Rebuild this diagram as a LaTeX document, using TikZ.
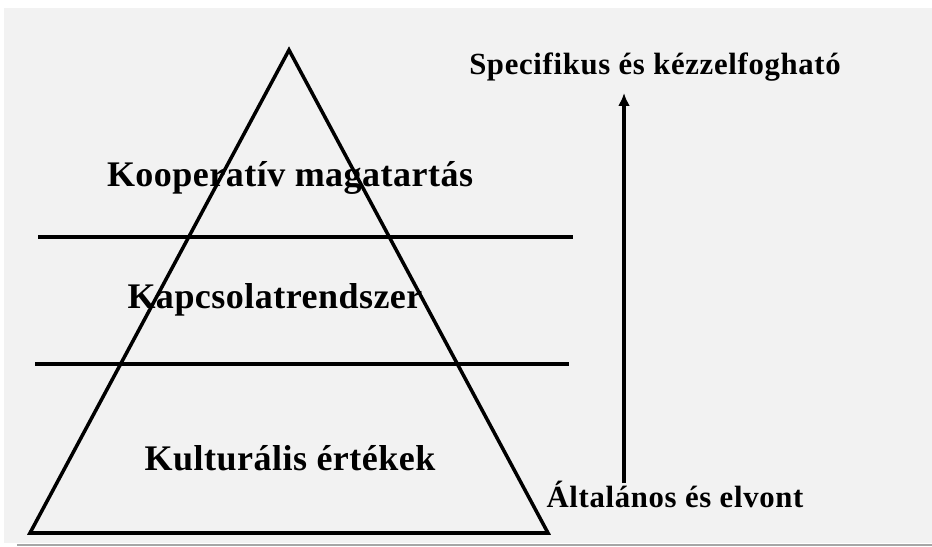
\documentclass[tikz,border=0pt]{standalone}
\usepackage{fontspec}
\setmainfont{Liberation Serif}
\usepackage{xcolor}
\usetikzlibrary{arrows.meta}
\definecolor{slidebg}{HTML}{F2F2F2}

\begin{document}
\begin{tikzpicture}[x=0.02cm, y=-0.02cm,
    line/.style={draw=black, line width=2pt},
    layer/.style={anchor=base, inner sep=0pt, font=\bfseries\fontsize{20.5}{24}\selectfont\addfontfeatures{LetterSpace=1.3}},
    side/.style={anchor=base, inner sep=0pt, font=\bfseries\fontsize{17.5}{20}\selectfont\addfontfeatures{LetterSpace=2.2}}]
  \useasboundingbox (0,0) rectangle (932,547);

  % background of the slide
  \fill[slidebg] (4,8) rectangle (932,543);
  \draw[gray!70, line width=1.7pt] (17,545) -- (932,545);

  % pyramid
  \coordinate (apex) at (289,50);
  \coordinate (bl) at (30,533);
  \coordinate (br) at (548,533);
  \draw[line, line join=miter] (apex) -- (bl) -- (br) -- cycle;

  \coordinate (s1a) at (38,237);
  \coordinate (s1b) at (573,237);
  \coordinate (s2a) at (35,364);
  \coordinate (s2b) at (569,364);
  \draw[line] (s1a) -- (s1b);
  \draw[line] (s2a) -- (s2b);

  \node[layer] (coop) at (290,187) {Kooperatív magatartás};
  \node[layer] (kapcs) at (275,308) {Kapcsolatrendszer};
  \node[layer] (kult) at (290,470) {Kulturális értékek};

  % direction of the levels
  \node[side] (spec) at (655,75) {Specifikus és kézzelfogható};
  \node[side] (alt) at (675,507) {Általános és elvont};
  \coordinate (afoot) at (624,483);
  \coordinate (atip) at (624,93);
  \draw[line, -{Latex[length=2.6mm, width=2.4mm]}] (afoot) -- (atip);
\end{tikzpicture}
\end{document}
